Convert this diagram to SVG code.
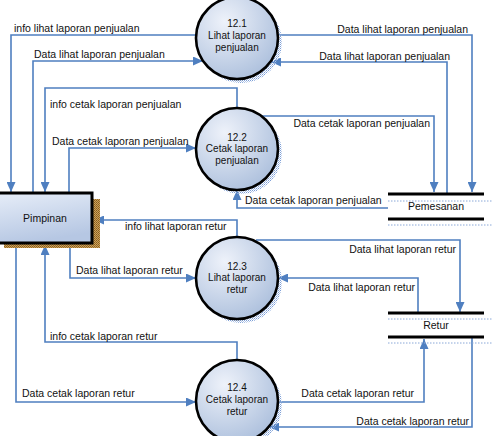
<svg xmlns="http://www.w3.org/2000/svg" width="492" height="436" viewBox="0 0 492 436">
<style>
.c{fill:none;stroke:#4f7fc0;stroke-width:1.6}
.ar{marker-end:url(#ah)}
.t{font-family:"Liberation Sans",Arial,sans-serif;font-size:10.5px;fill:#111}
.e{text-anchor:end}
.m{text-anchor:middle}
.p{font-family:"Liberation Sans",Arial,sans-serif;font-size:10px;fill:#111;text-anchor:middle}
.proc{fill:url(#cg);stroke:#000;stroke-width:2.6}
.sh{fill:url(#dots)}
.st{stroke:#000;stroke-width:3}
.sd{stroke:#8aa8d8;stroke-width:1;stroke-dasharray:1.5 1.5}
</style>
<defs>
<marker id="ah" markerWidth="10" markerHeight="9" refX="10" refY="4.5" orient="auto" markerUnits="userSpaceOnUse">
<path d="M0,0 L10,4.5 L0,9 z" fill="#4f7fc0"/>
</marker>
<radialGradient id="cg" cx="0.35" cy="0.3" r="0.8">
<stop offset="0" stop-color="#eef2fa"/>
<stop offset="1" stop-color="#a9bddb"/>
</radialGradient>
<linearGradient id="bg" x1="0" y1="0" x2="0.3" y2="1">
<stop offset="0" stop-color="#e6edf8"/>
<stop offset="1" stop-color="#b6c7e3"/>
</linearGradient>
<pattern id="dots" width="2" height="2" patternUnits="userSpaceOnUse">
<rect width="1" height="1" fill="#7d9fd6"/>
<rect x="1" y="1" width="1" height="1" fill="#b3c7ea"/>
</pattern>
<pattern id="bdots" width="2" height="2" patternUnits="userSpaceOnUse">
<rect width="2" height="2" fill="#c9a35c"/>
<rect width="1" height="1" fill="#8a5a1c"/>
<rect x="1" y="1" width="1" height="1" fill="#9b6a28"/>
</pattern>
</defs>

<g id="connectors">
<!-- 1 info lihat laporan penjualan -->
<polyline class="c ar" points="196,35 11,35 11,192"/>
<!-- 2 Data lihat laporan penjualan -->
<polyline class="c ar" points="33,192 33,61 203,61"/>
<!-- 3 info cetak laporan penjualan -->
<polyline class="c ar" points="237,108 237,88 45,88 45,192"/>
<!-- 4 Data cetak laporan penjualan -->
<polyline class="c ar" points="69,192 69,148 196,148"/>
<!-- 5 -->
<polyline class="c ar" points="278,35 472,35 472,192"/>
<!-- 6 -->
<polyline class="c ar" points="447,193 447,62 271,62"/>
<!-- 7 -->
<polyline class="c ar" points="262,116 434,116 434,192"/>
<!-- 8 -->
<polyline class="c ar" points="388,208 237,208 237,190"/>
<!-- 9 info lihat laporan retur -->
<polyline class="c ar" points="237,237 237,220 94,220"/>
<!-- 10 -->
<polyline class="c ar" points="70,244 70,278 196,278"/>
<!-- 11 -->
<polyline class="c ar" points="256,240 460,240 460,312"/>
<!-- 12 -->
<polyline class="c ar" points="418,312 418,278 278,278"/>
<!-- 13 info cetak laporan retur -->
<polyline class="c ar" points="237,360 237,342 45,342 45,245"/>
<!-- 14 -->
<polyline class="c ar" points="16,244 16,402 196,402"/>
<!-- 15 -->
<polyline class="c ar" points="278,402 424,402 424,339"/>
<!-- 16 -->
<polyline class="c ar" points="472,338 472,427 269,427"/>

<text class="t" x="14" y="32">info lihat laporan penjualan</text>
<text class="t" x="34" y="58">Data lihat laporan penjualan</text>
<text class="t" x="50" y="108">info cetak laporan penjualan</text>
<text class="t" x="52" y="145">Data cetak laporan penjualan</text>
<text class="t e" x="468" y="33">Data lihat laporan penjualan</text>
<text class="t e" x="450" y="60">Data lihat laporan penjualan</text>
<text class="t e" x="430" y="127">Data cetak laporan penjualan</text>
<text class="t" x="245" y="204">Data cetak laporan penjualan</text>
<text class="t" x="125" y="230">info lihat laporan retur</text>
<text class="t" x="76" y="274">Data lihat laporan retur</text>
<text class="t e" x="456" y="253">Data lihat laporan retur</text>
<text class="t e" x="415" y="291">Data lihat laporan retur</text>
<text class="t" x="50" y="340">info cetak laporan retur</text>
<text class="t" x="22" y="397">Data cetak laporan retur</text>
<text class="t e" x="414" y="397">Data cetak laporan retur</text>
<text class="t e" x="469" y="425">Data cetak laporan retur</text>
</g>

<g id="pimpinan">
<rect x="4" y="199" width="96" height="49" fill="url(#bdots)"/>
<rect x="-2" y="193" width="94" height="50" fill="url(#bg)" stroke="#000" stroke-width="3"/>
<text class="t m" x="45" y="222">Pimpinan</text>
</g>

<g id="p12_1">
<circle class="sh" cx="241" cy="42" r="41"/>
<circle class="proc" cx="237" cy="38" r="41"/>
<text class="p" x="237" y="27">12.1</text>
<text class="p" x="237" y="38.5">Lihat laporan</text>
<text class="p" x="237" y="50.5">penjualan</text>
</g>

<g id="p12_2">
<circle class="sh" cx="241" cy="153" r="41"/>
<circle class="proc" cx="237" cy="149" r="41"/>
<text class="p" x="237" y="140.5">12.2</text>
<text class="p" x="237" y="152">Cetak laporan</text>
<text class="p" x="237" y="163.5">penjualan</text>
</g>

<g id="p12_3">
<circle class="sh" cx="241" cy="282" r="41"/>
<circle class="proc" cx="237" cy="278" r="41"/>
<text class="p" x="237" y="269.5">12.3</text>
<text class="p" x="237" y="281">Lihat laporan</text>
<text class="p" x="237" y="292.5">retur</text>
</g>

<g id="p12_4">
<circle class="sh" cx="241" cy="405" r="41"/>
<circle class="proc" cx="237" cy="401" r="41"/>
<text class="p" x="237" y="391">12.4</text>
<text class="p" x="237" y="402.5">Cetak laporan</text>
<text class="p" x="237" y="414.5">retur</text>
</g>

<g id="pemesanan">
<line class="sd" x1="388" y1="201" x2="492" y2="201"/>
<line class="sd" x1="388" y1="225" x2="492" y2="225"/>
<line class="st" x1="388" y1="194" x2="484" y2="194"/>
<line class="st" x1="388" y1="219" x2="484" y2="219"/>
<text class="t m" x="436" y="210">Pemesanan</text>
</g>

<g id="retur">
<line class="sd" x1="388" y1="319" x2="492" y2="319"/>
<line class="sd" x1="388" y1="343" x2="492" y2="343"/>
<line class="st" x1="388" y1="313" x2="484" y2="313"/>
<line class="st" x1="388" y1="337" x2="484" y2="337"/>
<text class="t m" x="436" y="329">Retur</text>
</g>
</svg>
